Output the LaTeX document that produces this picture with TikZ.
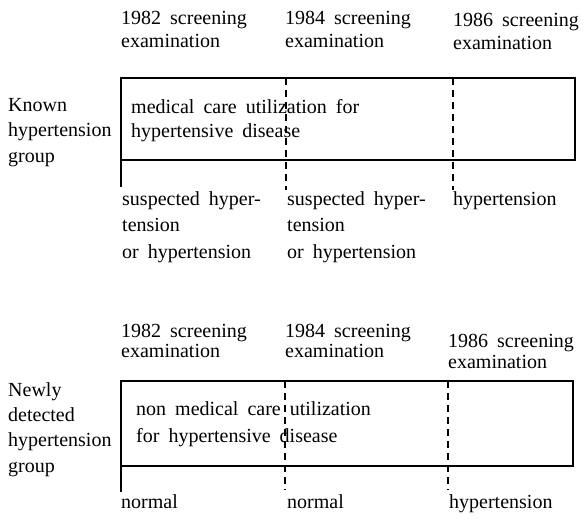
\documentclass[tikz,border=0pt]{standalone}
\usepackage{fontspec}
\setmainfont{Liberation Serif}[WordSpace=1.8]
\usetikzlibrary{positioning}

\begin{document}
\begin{tikzpicture}[x=1pt,y=-1pt]
    % anchors sit on the baseline of the last line of each text
    \tikzstyle{txt}=[inner sep=0pt, anchor=base west, align=left, font=\fontsize{20}{25.5}\selectfont]
    \tikzstyle{head}=[txt, font=\fontsize{20}{23}\selectfont]
    \tikzstyle{lowhead}=[txt, font=\fontsize{20}{20}\selectfont]
    \tikzstyle{frame}=[line width=1.6pt]
    \tikzstyle{exam}=[line width=1.2pt, dash pattern=on 7pt off 5pt]
    \useasboundingbox (0,0) rectangle (587,519);

    % Known hypertension group
    \node[head] (k82) at (121,48) {1982 screening\\examination};
    \node[head] (k84) at (285,48) {1984 screening\\examination};
    \node[head] (k86) at (453,50) {1986 screening\\examination};
    \node[txt] (known) at (8,162) {Known\\hypertension\\group};

    \coordinate (kbox-nw) at (121,78);
    \coordinate (kbox-se) at (575,160);
    \coordinate (ktail) at (121,187);
    \coordinate (k84-top) at (286,78);
    \coordinate (k84-end) at (286,190);
    \coordinate (k86-top) at (453,78);
    \coordinate (k86-end) at (453,190);
    \draw[frame] (kbox-nw) rectangle (kbox-se);
    \draw[frame] (kbox-nw |- kbox-se) -- (ktail);
    \draw[exam] (k84-top) -- (k84-end);
    \draw[exam] (k86-top) -- (k86-end);

    \node[txt, font=\fontsize{20}{24}\selectfont] (kcare) at (131,137) {medical care utilization for\\hypertensive disease};
    \node[txt, font=\fontsize{20}{26.5}\selectfont] (k82res) at (122,258) {suspected hyper-\\tension\\or hypertension};
    \node[txt, font=\fontsize{20}{26.5}\selectfont] (k84res) at (287,258) {suspected hyper-\\tension\\or hypertension};
    \node[txt] (k86res) at (453,205) {hypertension};

    % Newly detected hypertension group
    \node[lowhead] (n82) at (121,357) {1982 screening\\examination};
    \node[lowhead] (n84) at (285,357) {1984 screening\\examination};
    \node[lowhead, font=\fontsize{20}{21}\selectfont] (n86) at (448,368) {1986 screening\\examination};
    \node[txt, font=\fontsize{20}{25.3}\selectfont] (newly) at (8,472) {Newly\\detected\\hypertension\\group};

    \coordinate (nbox-nw) at (121,381);
    \coordinate (nbox-se) at (573,466);
    \coordinate (ntail) at (121,492);
    \coordinate (n84-top) at (285,381);
    \coordinate (n84-end) at (285,490);
    \coordinate (n86-top) at (448,381);
    \coordinate (n86-end) at (448,490);
    \draw[frame] (nbox-nw) rectangle (nbox-se);
    \draw[frame] (nbox-nw |- nbox-se) -- (ntail);
    \draw[exam] (n84-top) -- (n84-end);
    \draw[exam] (n86-top) -- (n86-end);

    \node[txt, font=\fontsize{20}{27}\selectfont] (ncare) at (136,442) {non medical care utilization\\for hypertensive disease};
    \node[txt] (n82res) at (121,508) {normal};
    \node[txt] (n84res) at (287,508) {normal};
    \node[txt] (n86res) at (449,508) {hypertension};
\end{tikzpicture}
\end{document}
